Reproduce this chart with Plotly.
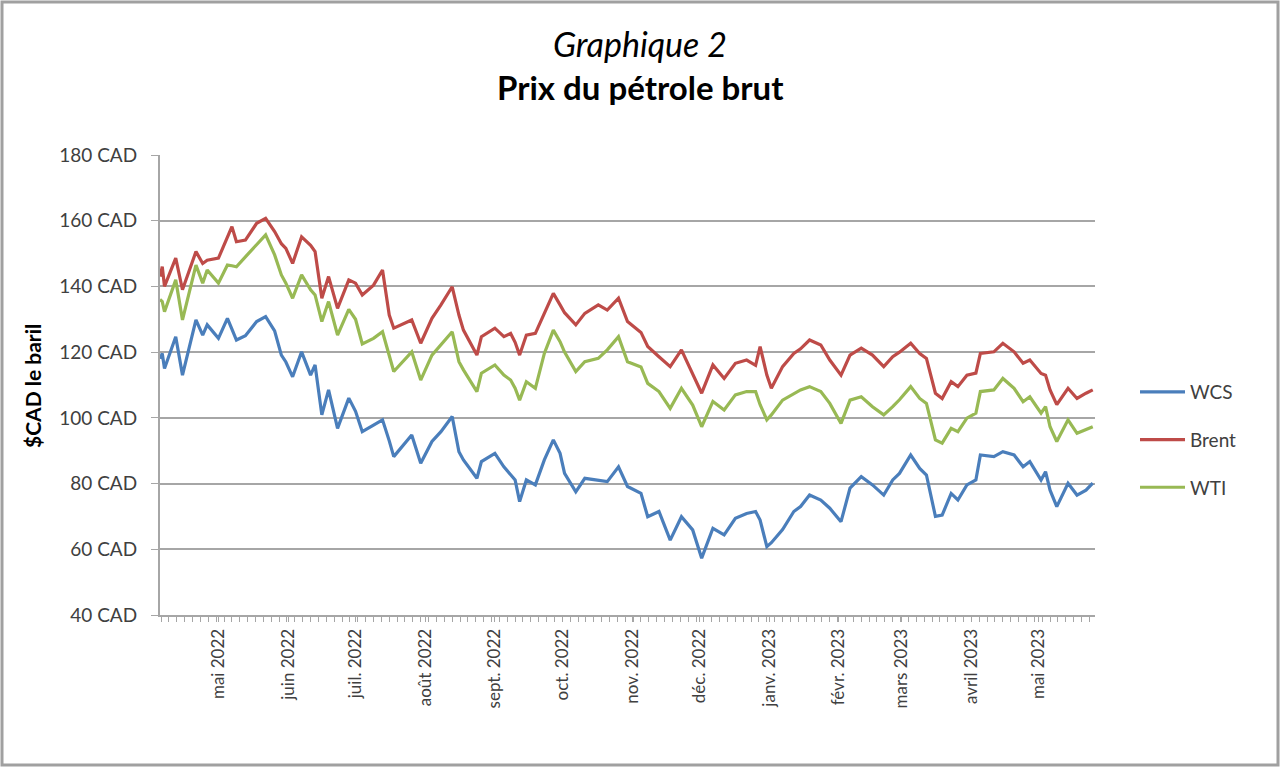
# %%
import plotly.graph_objects as go
import pandas as pd

dates = [
    '2022-04-05', '2022-04-06', '2022-04-07', '2022-04-12', '2022-04-15', '2022-04-21', '2022-04-24', '2022-04-26',
    '2022-05-01', '2022-05-05', '2022-05-07', '2022-05-09', '2022-05-13', '2022-05-18', '2022-05-22', '2022-05-26',
    '2022-05-29', '2022-05-31', '2022-06-03', '2022-06-07', '2022-06-11', '2022-06-13', '2022-06-16', '2022-06-19',
    '2022-06-23', '2022-06-28', '2022-07-01', '2022-07-04', '2022-07-09', '2022-07-13', '2022-07-16', '2022-07-18',
    '2022-07-26', '2022-07-30', '2022-08-04', '2022-08-08', '2022-08-13', '2022-08-16', '2022-08-18', '2022-08-24',
    '2022-08-26', '2022-09-01', '2022-09-05', '2022-09-08', '2022-09-10', '2022-09-12', '2022-09-15', '2022-09-19',
    '2022-09-23', '2022-09-27', '2022-09-30', '2022-10-02', '2022-10-07', '2022-10-11', '2022-10-17', '2022-10-21',
    '2022-10-26', '2022-10-30', '2022-11-05', '2022-11-08', '2022-11-13', '2022-11-18', '2022-11-23', '2022-11-28',
    '2022-12-02', '2022-12-07', '2022-12-12', '2022-12-17', '2022-12-22', '2022-12-26', '2022-12-28', '2022-12-31',
    '2023-01-02', '2023-01-07', '2023-01-12', '2023-01-15', '2023-01-19', '2023-01-24', '2023-01-28', '2023-02-02',
    '2023-02-06', '2023-02-11', '2023-02-16', '2023-02-21', '2023-02-25', '2023-02-28', '2023-03-05', '2023-03-09',
    '2023-03-12', '2023-03-16', '2023-03-19', '2023-03-23', '2023-03-26', '2023-03-30', '2023-04-03', '2023-04-05',
    '2023-04-11', '2023-04-15', '2023-04-20', '2023-04-24', '2023-04-27', '2023-05-02', '2023-05-04', '2023-05-06',
    '2023-05-09', '2023-05-14', '2023-05-18', '2023-05-22', '2023-05-25',
]

wcs = [
    118, 119.6, 115, 124.7, 113, 129.8, 125.2, 128.3,
    124.2, 130.3, 127, 123.7, 125, 129.3, 130.8, 126.5,
    119.1, 117, 112.5, 120.1, 113, 116.1, 100.9, 108.5,
    96.8, 106, 102, 95.8, 97.8, 99.4, 93, 88.2,
    94.8, 86.2, 92.8, 95.8, 100.4, 89.7, 87.2, 81.6,
    86.7, 89.2, 85.1, 82.5, 81.1, 74.5, 81.1, 79.6,
    87.2, 93.3, 89.2, 83.1, 77.5, 81.6, 81.1, 80.6,
    85.1, 79.1, 77, 69.9, 71.5, 62.8, 69.9, 65.9,
    57.3, 66.4, 64.4, 69.4, 70.9, 71.5, 68.9, 60.8,
    62, 66, 71.5, 73, 76.5, 75, 72.5, 68.4,
    78.6, 82.1, 79.6, 76.5, 81.1, 83.1, 88.7, 84.6,
    82.6, 70, 70.4, 77, 75, 79.6, 81.1, 88.7,
    88.2, 89.7, 88.7, 85.1, 86.7, 81.1, 83.6, 78,
    73, 80.1, 76.5, 78, 80.1,
]

brent = [
    143, 146, 140, 148.6, 139, 150.6, 147, 148,
    148.6, 155, 158.2, 153.6, 154.1, 159.2, 160.7, 156.7,
    153, 151.6, 147, 155.1, 152.5, 150.6, 136.4, 143,
    133.3, 142, 141, 137.4, 140.4, 145, 131.3, 127.3,
    129.8, 122.7, 130.3, 134.4, 139.9, 131.3, 126.7, 119.1,
    124.7, 127.3, 124.7, 125.7, 123, 119.1, 125.2, 125.7,
    131.8, 137.9, 134.4, 132, 128.3, 131.8, 134.4, 132.8,
    136.4, 129.3, 126, 121.7, 118.6, 115.6, 120.7, 113.6,
    107.5, 116.1, 112, 116.6, 117.6, 116, 121.7, 113,
    109, 115.6, 119.6, 121, 123.7, 122.2, 117.6, 113,
    119.1, 121.2, 119.1, 115.6, 118.6, 120, 122.7, 119.6,
    118.1, 107.5, 105.9, 111, 109.5, 113, 113.6, 119.6,
    120.1, 122.7, 120.1, 116.6, 117.6, 113.5, 113, 108.5,
    104, 109, 105.9, 107.5, 108.5,
]

wti = [
    136, 135.4, 132.3, 142, 129.8, 146.5, 141, 145,
    141, 146.5, 146.3, 146, 149, 152.6, 155.7, 149.6,
    143.5, 141, 136.4, 143.5, 139, 137.4, 129.3, 135.4,
    125.2, 133, 130, 122.5, 124.2, 126.2, 119, 114.1,
    120.1, 111.5, 119.1, 122.2, 126.2, 117.1, 114.6, 108,
    113.6, 116.1, 113, 111.5, 109, 105.4, 111, 109,
    119.6, 126.7, 123.2, 120, 114.1, 117.1, 118.1, 120.7,
    124.7, 117.1, 115.5, 110.5, 108, 102.9, 109, 103.9,
    97.3, 105, 102.4, 107, 108, 108, 104, 99.4,
    100.9, 105.4, 107.5, 108.5, 109.5, 108, 104.4, 98.3,
    105.4, 106.4, 103.4, 100.9, 103.4, 105.5, 109.5, 105.9,
    104.4, 93.3, 92.3, 96.8, 95.8, 99.9, 101.4, 108,
    108.5, 112, 109, 104.9, 106.4, 101.4, 103.4, 97.3,
    92.8, 99.4, 95.3, 96.3, 97.3,
]

# étiquettes des mois (axe x)
mois_vals = ['2022-05-01', '2022-06-01', '2022-07-01', '2022-08-01', '2022-09-01', '2022-10-01', '2022-11-01',
             '2022-12-01', '2023-01-01', '2023-02-01', '2023-03-01', '2023-04-01', '2023-05-01']
mois_txt = ['mai 2022', 'juin 2022', 'juil. 2022', 'août 2022', 'sept. 2022', 'oct. 2022', 'nov. 2022',
            'déc. 2022', 'janv. 2023', 'févr. 2023', 'mars 2023', 'avril 2023', 'mai 2023']

y_vals = [40, 60, 80, 100, 120, 140, 160, 180]
y_txt = ['{} CAD'.format(v) for v in y_vals]

df = pd.DataFrame({'date': pd.to_datetime(dates), 'WCS': wcs, 'Brent': brent, 'WTI': wti})
couleurs = {'WCS': '#4A7EBB', 'Brent': '#BE4B48', 'WTI': '#98B954'}

police = 'Lato, Open Sans, sans-serif'
gris_txt = '#404040'

fig = go.Figure()
for nom in ['WCS', 'Brent', 'WTI']:
    fig.add_trace(go.Scatter(
        x=df['date'], y=df[nom], name=nom, mode='lines', legendgroup=nom,
        line=dict(color=couleurs[nom], width=3.2)
    ))

# marges -> zone de tracé 160..1095 x 155..615
W, H = 1280, 767
L, R, T, B = 160, 185, 155, 152
pw, ph = W - L - R, H - T - B

fig.update_layout(
    width=W, height=H,
    margin=dict(l=L, r=R, t=T, b=B),
    paper_bgcolor='white', plot_bgcolor='white',
    font=dict(family=police, color=gris_txt, size=17),
    showlegend=True,
    legend=dict(
        x=(1135 - L) / pw, y=(615 - 440) / ph, xanchor='left', yanchor='middle',
        font=dict(size=19, color=gris_txt), tracegroupgap=20, itemwidth=45,
        bgcolor='rgba(0,0,0,0)'
    ),
)

fig.update_xaxes(
    range=['2022-04-05', '2023-05-26'],
    tickvals=mois_vals, ticktext=mois_txt, tickangle=-90,
    tickfont=dict(size=17, color=gris_txt),
    showgrid=False, showline=True, linecolor='#A6A6A6', linewidth=2,
    ticks='outside', ticklen=5, tickcolor='#A6A6A6', tickwidth=1,
    minor=dict(ticks='outside', ticklen=5, tickcolor='#A6A6A6', dtick=302400000, showgrid=False),
)

fig.update_yaxes(
    range=[40, 180], tickvals=y_vals, ticktext=y_txt,
    tickfont=dict(size=19, color=gris_txt), ticklabelstandoff=10,
    showgrid=True, gridcolor='#A6A6A6', gridwidth=2,
    showline=True, linecolor='#A6A6A6', linewidth=2,
    ticks='outside', ticklen=7, tickcolor='#A6A6A6', zeroline=False,
)

# titre
cx = (640 - L) / pw
fig.add_annotation(text='<i>Graphique 2</i>', x=cx, y=(615 - 43) / ph,
                   xref='paper', yref='paper', showarrow=False, yanchor='middle',
                   font=dict(size=34, color='#000000', family=police))
fig.add_annotation(text='<b>Prix du pétrole brut</b>', x=cx, y=(615 - 87) / ph,
                   xref='paper', yref='paper', showarrow=False, yanchor='middle',
                   font=dict(size=33, color='#000000', family=police))

# titre de l'axe y
fig.add_annotation(text='<b>$CAD le baril</b>', x=(32 - L) / pw, y=(615 - 386) / ph,
                   xref='paper', yref='paper', showarrow=False, textangle=-90,
                   xanchor='center', yanchor='middle',
                   font=dict(size=21, color='#000000', family=police))

# cadre extérieur
fig.add_shape(type='rect', xref='paper', yref='paper',
              x0=(2 - L) / pw, x1=(W - 2 - L) / pw, y0=(615 - (H - 2)) / ph, y1=(615 - 2) / ph,
              line=dict(color='#A0A0A0', width=3), fillcolor='rgba(0,0,0,0)', layer='below')

# pas de marge autour de la figure dans la page, pas de barre d'outils
fig.write_html("out.html", config={'displayModeBar': False},
               post_script="document.body.style.margin='0';")
# %%
